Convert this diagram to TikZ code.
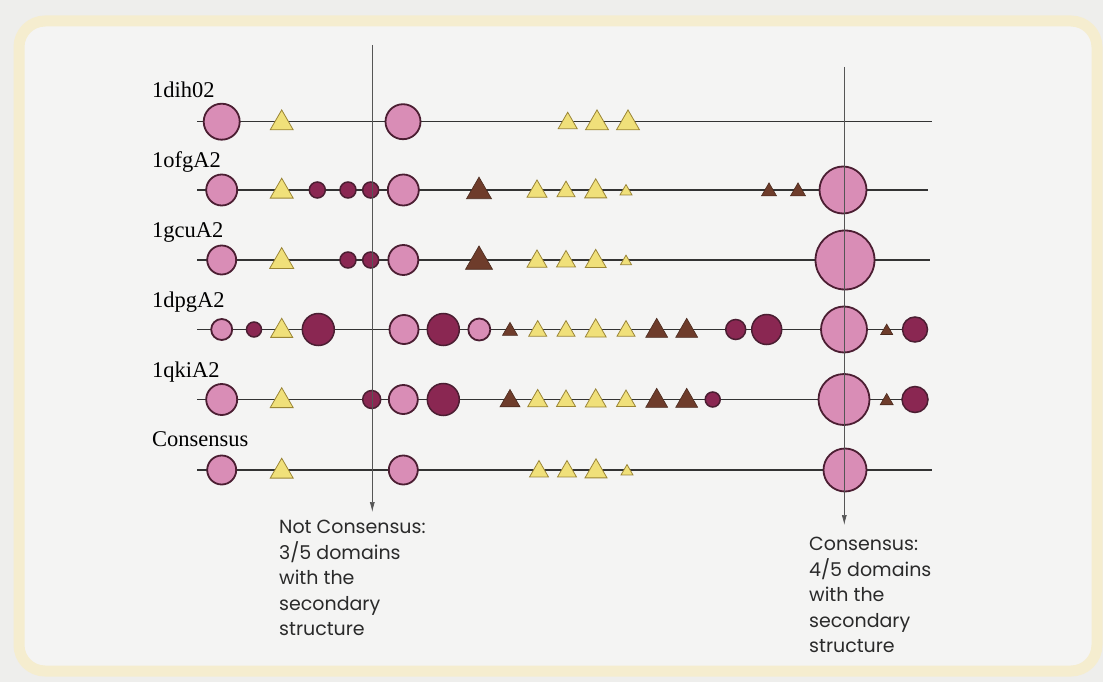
\documentclass[tikz,border=0pt]{standalone}
\usepackage{fontspec}
\setmainfont{Liberation Serif}
\newfontfamily\notefont{Poppins}
\usetikzlibrary{shapes.geometric,arrows.meta}

\definecolor{pageout}{HTML}{EEEEEC}
\definecolor{pagein}{HTML}{F4F4F3}
\definecolor{bandcol}{HTML}{F5EDCF}
\definecolor{helixpink}{HTML}{D98DB6}
\definecolor{helixdark}{HTML}{8A2752}
\definecolor{helixedge}{HTML}{4B1E32}
\definecolor{strandyel}{HTML}{F0E07A}
\definecolor{strandedge}{HTML}{9A8536}
\definecolor{strandbrown}{HTML}{6E3C2B}
\definecolor{strandbedge}{HTML}{4A2A1E}
\definecolor{rowcol}{HTML}{333333}
\definecolor{guidecol}{HTML}{555555}
\definecolor{notecol}{HTML}{2A2A2A}

\tikzset{
  pc/.style={circle, draw=helixedge, fill=helixpink, line width=1.8pt, inner sep=0pt, minimum size=#1},
  dc/.style={circle, draw=helixedge, fill=helixdark, line width=1.5pt, inner sep=0pt, minimum size=#1},
  yt/.style={regular polygon, regular polygon sides=3, draw=strandedge, fill=strandyel, line width=0.8pt, inner sep=0pt, minimum size=1.155*#1},
  bt/.style={regular polygon, regular polygon sides=3, draw=strandbedge, fill=strandbrown, line width=0.6pt, inner sep=0pt, minimum size=1.155*#1},
  rowline/.style={draw=rowcol, line width=1.4pt},
  guide/.style={draw=guidecol, line width=0.7pt},
  guidearrow/.style={guide, -{Latex[length=10pt,width=5pt]}},
  lab/.style={font=\fontsize{22.5}{26}\selectfont, inner sep=0pt, anchor=base west},
  note/.style={font=\notefont\fontsize{19}{25.5}\selectfont, text=notecol, align=left, inner sep=0pt, anchor=north west},
}

\begin{document}
\begin{tikzpicture}[x=1pt,y=-1pt]
  % page and frame
  \fill[pageout] (0,0) rectangle (1103,682);
  \useasboundingbox (0,0) rectangle (1103,682);
  \draw[draw=bandcol, fill=pagein, line width=11pt, rounded corners=26pt] (19,21) rectangle (1097,671);

  % ---- row 1: 1dih02
  \node[lab] (l1) at (152,97.7) {1dih02};
  \coordinate (r1s) at (197,121.7); \coordinate (r1e) at (932,121.7);
  \draw[rowline] (r1s) -- (r1e);
  \foreach \x/\d [count=\i] in {221.7/36, 403/35}
    \node[pc=\d] (r1p\i) at (\x,121.7) {};
  \foreach \x/\w [count=\i] in {281.7/23, 567.7/19, 597/23, 628/23}
    \node[yt=\w] (r1y\i) at (\x,123.2) {};

  % ---- row 2: 1ofgA2
  \node[lab] (l2) at (152,167.5) {1ofgA2};
  \coordinate (r2s) at (197,190); \coordinate (r2e) at (928,190);
  \draw[rowline] (r2s) -- (r2e);
  \foreach \x/\d [count=\i] in {221.7/31, 403.3/31, 843/47}
    \node[pc=\d] (r2p\i) at (\x,190) {};
  \foreach \x/\d [count=\i] in {317.3/16, 348/16, 370.7/16}
    \node[dc=\d] (r2d\i) at (\x,190) {};
  \foreach \x/\w [count=\i] in {281.7/23, 537/20, 566/18, 595.7/22, 626/12}
    \node[yt=\w] (r2y\i) at (\x,191.5) {};
  \foreach \x/\w [count=\i] in {479/25, 769/15, 798/15}
    \node[bt=\w] (r2b\i) at (\x,191.5) {};

  % ---- row 3: 1gcuA2
  \node[lab] (l3) at (152,237.3) {1gcuA2};
  \coordinate (r3s) at (197,260); \coordinate (r3e) at (930,260);
  \draw[rowline] (r3s) -- (r3e);
  \foreach \x/\d [count=\i] in {221.7/29, 403.3/30, 845/59}
    \node[pc=\d] (r3p\i) at (\x,260) {};
  \foreach \x/\d [count=\i] in {348/16, 370.7/16}
    \node[dc=\d] (r3d\i) at (\x,260) {};
  \foreach \x/\w [count=\i] in {281.7/24, 537/20, 566/19, 595.7/21, 626/11}
    \node[yt=\w] (r3y\i) at (\x,261.5) {};
  \node[bt=27] (r3b1) at (479,261.5) {};

  % ---- row 4: 1dpgA2
  \node[lab] (l4) at (152,307) {1dpgA2};
  \coordinate (r4s) at (197,329.5); \coordinate (r4e) at (915,329.5);
  \draw[rowline] (r4s) -- (r4e);
  \foreach \x/\d [count=\i] in {221.7/21, 404/29, 479.3/22, 844/46}
    \node[pc=\d] (r4p\i) at (\x,329.5) {};
  \foreach \x/\d [count=\i] in {254/15, 318.3/32, 443.3/32, 735.7/20, 766.7/30, 915/25}
    \node[dc=\d] (r4d\i) at (\x,329.5) {};
  \foreach \x/\w [count=\i] in {281.7/22, 537.7/18, 566/18, 595.7/21, 626/18}
    \node[yt=\w] (r4y\i) at (\x,331) {};
  \foreach \x/\w [count=\i] in {510/15, 656.7/22, 686.7/22, 886.7/12}
    \node[bt=\w] (r4b\i) at (\x,331) {};

  % ---- row 5: 1qkiA2
  \node[lab] (l5) at (152,377) {1qkiA2};
  \coordinate (r5s) at (197,399.5); \coordinate (r5e) at (915,399.5);
  \draw[rowline] (r5s) -- (r5e);
  \foreach \x/\d [count=\i] in {221.7/31, 403.3/29, 844/51}
    \node[pc=\d] (r5p\i) at (\x,399.5) {};
  \foreach \x/\d [count=\i] in {371.7/18, 443.3/32, 712.7/15, 915/26}
    \node[dc=\d] (r5d\i) at (\x,399.5) {};
  \foreach \x/\w [count=\i] in {281.7/23, 537.7/20, 566/19, 595.7/21, 626/19}
    \node[yt=\w] (r5y\i) at (\x,401) {};
  \foreach \x/\w [count=\i] in {510/20, 656.7/22, 686.7/22, 886.7/13}
    \node[bt=\w] (r5b\i) at (\x,401) {};

  % ---- row 6: consensus
  \node[lab] (l6) at (152,446.7) {Consensus};
  \coordinate (r6s) at (197,470); \coordinate (r6e) at (932,470);
  \draw[rowline] (r6s) -- (r6e);
  \foreach \x/\d [count=\i] in {221.7/29, 403.3/29, 845/43}
    \node[pc=\d] (r6p\i) at (\x,470) {};
  \foreach \x/\w [count=\i] in {281.7/23, 539/19, 567/19, 596/22, 627/12}
    \node[yt=\w] (r6y\i) at (\x,471.5) {};

  % ---- guide lines with their notes
  \coordinate (gLtop) at (372.3,45);  \coordinate (gLtip) at (372.3,512);
  \coordinate (gRtop) at (844.3,67);  \coordinate (gRtip) at (844.3,525);
  \draw[guidearrow] (gLtop) -- (gLtip);
  \draw[guidearrow] (gRtop) -- (gRtip);

  \node[note] (nL) at (279,520) {Not Consensus:\\3/5 domains\\with the\\secondary\\structure};
  \node[note] (nR) at (809,537) {Consensus:\\4/5 domains\\with the\\secondary\\structure};
\end{tikzpicture}
\end{document}
